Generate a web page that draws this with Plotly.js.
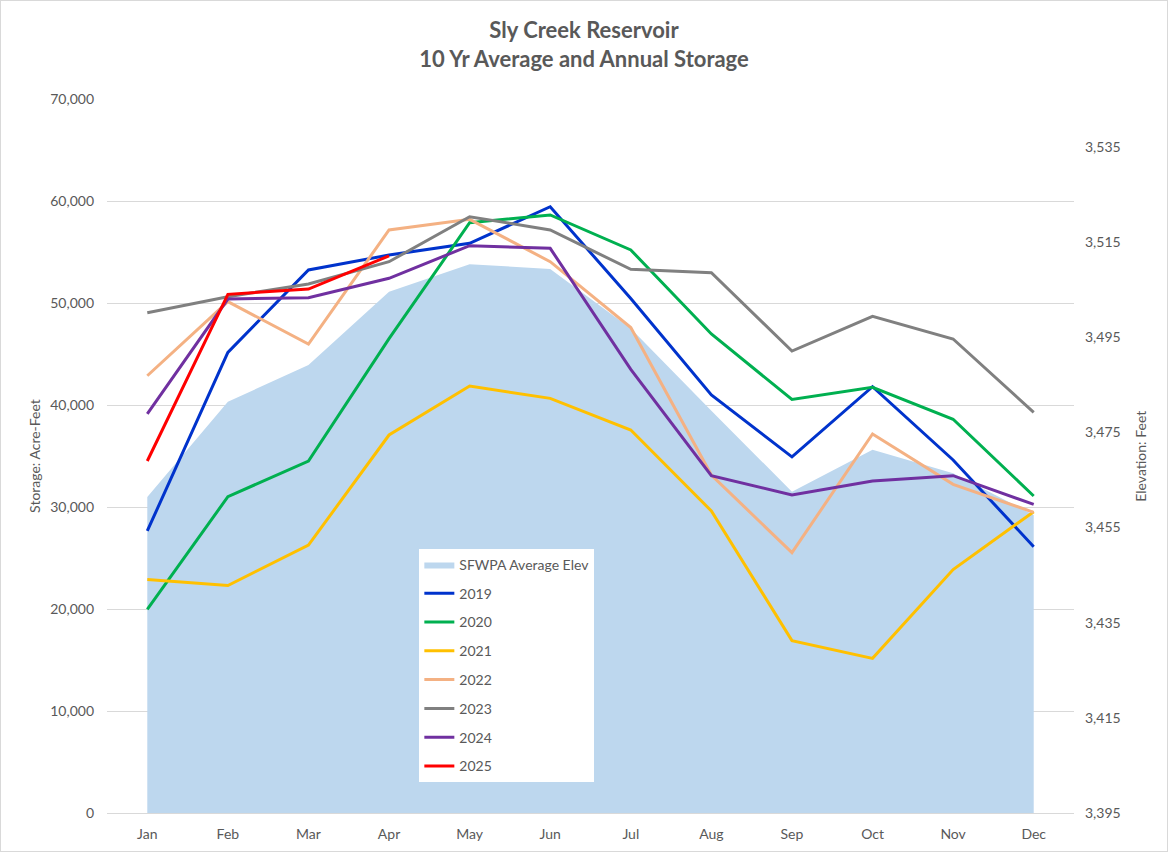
<!DOCTYPE html>
<html>
<head>
<meta charset="utf-8">
<script src="https://cdn.plot.ly/plotly-3.0.1.min.js"></script>
<style>
  html, body { margin: 0; padding: 0; background: #ffffff; }
  #chart { width: 1166px; height: 850px; border: 1px solid #d9d9d9; }
</style>
</head>
<body>
<div id="chart"></div>
<script>
const months = ['Jan','Feb','Mar','Apr','May','Jun','Jul','Aug','Sep','Oct','Nov','Dec'];

// SFWPA 10-yr average elevation (feet, right axis)
const avgElev = [3461.4, 3481.4, 3489.1, 3504.5, 3510.3, 3509.3, 3496.8, 3479.5, 3462.5, 3471.3, 3466.4, 3457.6];

// Annual storage (acre-feet, left axis)
const s2019 = [27650, 45160, 53240, 54700, 55850, 59440, 50440, 40980, 34920, 41800, 34610, 26110];
const s2020 = [19970, 31010, 34510, 46500, 57870, 58630, 55200, 46960, 40540, 41730, 38600, 31080];
const s2021 = [22890, 22300, 26270, 37060, 41860, 40650, 37550, 29610, 16900, 15160, 23870, 29540];
const s2022 = [42870, 50130, 45980, 57160, 58200, 54050, 47600, 33140, 25520, 37160, 32220, 29480];
const s2023 = [49050, 50620, 51860, 54050, 58460, 57160, 53300, 52970, 45290, 48690, 46470, 39280];
const s2024 = [39120, 50390, 50520, 52420, 55620, 55360, 43500, 33070, 31180, 32550, 33070, 30250];
const s2025 = [34510, 50850, 51370, 54610];

const seriesNames = ['2019','2020','2021','2022','2023','2024','2025'];
const seriesData = [s2019, s2020, s2021, s2022, s2023, s2024, s2025];
const seriesColors = ['#0033cc','#00b050','#ffc000','#f4b183','#808080','#7030a0','#ff0000'];

const FONT = 'Lato, "Open Sans", sans-serif';
const GREY = '#595959';

const traces = [{
  type: 'scatter',
  mode: 'lines',
  name: 'SFWPA Average Elev',
  x: months,
  y: avgElev,
  yaxis: 'y',
  fill: 'tozeroy',
  fillcolor: '#bdd7ee',
  line: { width: 0, color: '#bdd7ee' },
  legendgroup: 'g0'
}];

seriesNames.forEach((n, i) => {
  traces.push({
    type: 'scatter',
    mode: 'lines',
    name: n,
    x: months.slice(0, seriesData[i].length),
    y: seriesData[i],
    yaxis: 'y2',
    line: { color: seriesColors[i], width: 3 },
    legendgroup: 'g' + (i + 1)
  });
});

const layout = {
  width: 1166,
  height: 850,
  margin: { l: 106, r: 93, t: 98, b: 38 },
  paper_bgcolor: '#ffffff',
  plot_bgcolor: 'rgba(0,0,0,0)',
  font: { family: FONT, size: 14, color: GREY },
  title: {
    text: '<b>Sly Creek Reservoir<br>10 Yr Average and Annual Storage</b>',
    font: { family: FONT, size: 22, color: GREY },
    x: 0.5, xref: 'container',
    y: 0.956, yref: 'container', yanchor: 'top'
  },
  xaxis: {
    type: 'category',
    range: [-0.5, 11.5],
    showgrid: false,
    showline: true,
    linecolor: '#d9d9d9',
    ticks: '',
    tickfont: { family: FONT, size: 14, color: GREY },
    ticklabelstandoff: 8
  },
  yaxis: {
    side: 'right',
    range: [3395, 3545],
    tick0: 3395,
    dtick: 20,
    tickformat: ',d',
    showgrid: false,
    zeroline: false,
    ticks: '',
    ticklabelstandoff: 10,
    tickfont: { family: FONT, size: 14, color: GREY }
  },
  yaxis2: {
    side: 'left',
    overlaying: 'y',
    range: [0, 70000],
    dtick: 10000,
    tickformat: ',d',
    showgrid: true,
    gridcolor: '#d9d9d9',
    gridwidth: 1,
    zeroline: false,
    ticks: '',
    ticklabelstandoff: 12,
    tickfont: { family: FONT, size: 14, color: GREY },
    title: { text: 'Storage: Acre-Feet', font: { family: FONT, size: 14, color: GREY }, standoff: 6 }
  },
  annotations: [{
    text: 'Elevation: Feet',
    xref: 'paper', yref: 'paper',
    x: 1.068, y: 0.5,
    xanchor: 'center', yanchor: 'middle',
    textangle: -90,
    showarrow: false,
    font: { family: FONT, size: 14, color: GREY }
  }],
  showlegend: true,
  legend: {
    x: 0.323, y: 0.37,
    xanchor: 'left', yanchor: 'top',
    bgcolor: '#ffffff',
    borderwidth: 0,
    font: { family: FONT, size: 14, color: GREY },
    tracegroupgap: 7.6,
    traceorder: 'grouped'
  }
};

Plotly.newPlot('chart', traces, layout, { displayModeBar: false, staticPlot: true });
</script>
</body>
</html>
